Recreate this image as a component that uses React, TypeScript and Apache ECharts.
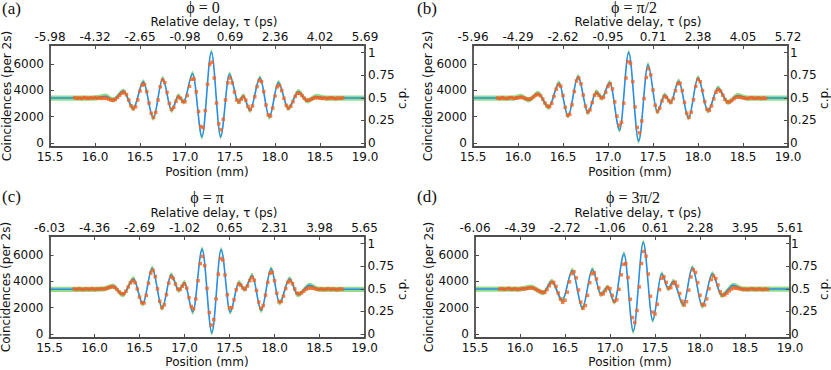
import React, { useEffect, useRef } from "react";
import * as echarts from "echarts";

// ---------- axis settings & tick labels ----------
const positionMin = 15.5;
const positionMax = 19.0;
const positionStep = 0.5;
const coincidenceMin = -300;
const coincidenceMax = 7450;
const cpFullScale = 6870; // coincidences corresponding to c.p. = 1
const coincidenceTicks = [0, 2000, 4000, 6000];
const cpTicks = [0, 0.25, 0.5, 0.75, 1];
const bandHalfWidth = 200; // half width of the green band around the fit

const delayTicksA = ["-5.98", "-4.32", "-2.65", "-0.98", "0.69", "2.36", "4.02", "5.69"];
const delayTicksB = ["-5.96", "-4.29", "-2.62", "-0.95", "0.71", "2.38", "4.05", "5.72"];
const delayTicksC = ["-6.03", "-4.36", "-2.69", "-1.02", "0.65", "2.31", "3.98", "5.65"];
const delayTicksD = ["-6.06", "-4.39", "-2.72", "-1.06", "0.61", "2.28", "3.95", "5.61"];

// ---------- fitted curves (extrema) ----------
const fitPosA = [15.5, 16.0, 16.12, 16.2, 16.315, 16.426, 16.537, 16.648, 16.752, 16.852, 16.926, 16.985, 17.085, 17.189, 17.293, 17.396, 17.493, 17.593, 17.648, 17.722, 17.833, 17.937, 18.037, 18.148, 18.259, 18.36, 18.46, 18.56, 19.0];
const fitValA = [3420, 3420, 3560, 3280, 3950, 2650, 4650, 1900, 4900, 2480, 3580, 3130, 5280, 480, 6920, 480, 5230, 3130, 3580, 2480, 4950, 1980, 4600, 2650, 3900, 3200, 3540, 3420, 3420];

const fitPosB = [15.5, 15.95, 16.03, 16.12, 16.222, 16.341, 16.456, 16.556, 16.667, 16.778, 16.87, 16.933, 17.019, 17.13, 17.23, 17.341, 17.444, 17.548, 17.63, 17.696, 17.785, 17.896, 18.0, 18.111, 18.222, 18.333, 18.44, 18.55, 19.0];
const fitValB = [3420, 3420, 3540, 3280, 3780, 2720, 4550, 2050, 5050, 2320, 3880, 3430, 4600, 1000, 6900, 150, 5950, 2370, 3640, 3080, 4700, 1920, 4950, 2450, 4180, 3100, 3600, 3420, 3420];

const fitPosC = [15.5, 16.0, 16.1, 16.204, 16.315, 16.433, 16.537, 16.641, 16.752, 16.852, 16.937, 17.0, 17.093, 17.196, 17.304, 17.407, 17.507, 17.604, 17.667, 17.752, 17.852, 17.963, 18.056, 18.167, 18.259, 18.389, 18.5, 19.0];
const fitValC = [3400, 3400, 3440, 3650, 2990, 4200, 2300, 5000, 1980, 4500, 3320, 3900, 1670, 6450, 100, 6420, 1670, 3900, 3390, 4450, 1800, 4950, 2380, 4200, 2990, 3700, 3400, 3400];

const fitPosD = [15.5, 16.0, 16.12, 16.259, 16.352, 16.47, 16.581, 16.693, 16.804, 16.9, 16.974, 17.048, 17.156, 17.259, 17.37, 17.474, 17.574, 17.648, 17.704, 17.815, 17.915, 18.026, 18.137, 18.241, 18.37, 18.48, 19.0];
const fitValD = [3420, 3420, 3560, 3150, 4000, 2560, 4830, 1980, 4900, 3020, 3570, 2430, 6100, 200, 6980, 1040, 4580, 3440, 4000, 2230, 5050, 2130, 4580, 2940, 3700, 3420, 3420];

// ---------- measured coincidences (orange points), sampled every 0.025 mm from 15.775 mm ----------
const dataStart = 15.775;
const dataStep = 0.025;

const dataA = [
  3450, 3400, 3430, 3380, 3460, 3420, 3390, 3440, 3410, 3470, 3400, 3430, 3390,
  3420, 3400, 3340, 3280, 3250, 3310, 3460, 3640, 3790, 3850,
  3680, 3270, 2830, 2610, 2750, 3280, 3950, 4410, 4450, 3910,
  3040, 2260, 1950, 2330, 3270, 4270, 4780, 4590, 3850, 3010,
  2560, 2710, 3170, 3490, 3400, 3160, 3140, 3610, 4310, 4850,
  4860, 3890, 2400, 1260, 1180, 2470, 4460, 5970, 6140, 4940,
  3040, 1460, 1020, 1810, 3280, 4580, 4940, 4570, 3880, 3280,
  3110, 3330, 3500, 3260, 2790, 2550, 2820, 3520, 4280, 4760,
  4660, 3910, 2890, 2140, 2060, 2660, 3570, 4270, 4370, 3990,
  3400, 2860, 2650, 2790, 3140, 3540, 3780, 3770, 3610, 3400,
  3260, 3260, 3320, 3400, 3450, 3440,
  3420, 3390, 3430, 3380, 3410, 3440, 3400, 3370, 3420, 3400, 3430,
];

const dataB = [
  3420, 3380, 3450, 3400, 3370, 3430, 3460, 3390, 3410, 3440,
  3475, 3460, 3400, 3340, 3320, 3390, 3520, 3650, 3700, 3600,
  3350, 3040, 2810, 2760, 3020, 3540, 4090, 4420, 4320, 3620,
  2710, 2110, 2180, 2900, 3910, 4720, 4940, 4500, 3650, 2800,
  2360, 2520, 3080, 3630, 3790, 3620, 3420, 3470, 3850, 4300,
  4500, 4110, 3130, 2040, 1360, 1580, 3030, 4940, 6180, 6050,
  4670, 2740, 1190, 780, 1680, 3380, 4980, 5650, 5180, 4030,
  2870, 2400, 2660, 3200, 3540, 3470, 3230, 3100, 3380, 3980,
  4500, 4550, 3990, 3090, 2270, 1950, 2340, 3290, 4310, 4830,
  4660, 3990, 3150, 2560, 2480, 2820, 3360, 3860, 4050, 3940,
  3640, 3320, 3120, 3120, 3230, 3370, 3480, 3500, 3470,
  3440, 3400, 3380, 3420, 3450, 3390, 3410, 3430, 3380, 3420, 3400,
];

const dataC = [
  3430, 3390, 3450, 3410, 3380, 3440, 3420, 3400, 3460, 3390, 3430, 3410, 3440,
  3420, 3450, 3510, 3570, 3600, 3540, 3380, 3200, 3070, 3070,
  3260, 3580, 3890, 4050, 3910, 3420, 2810, 2380, 2360, 2940,
  3860, 4630, 4840, 4360, 3430, 2490, 2010, 2220, 2990, 3870,
  4340, 4220, 3800, 3420, 3380, 3630, 3800, 3490, 2770, 2100,
  1920, 2660, 4050, 5350, 5900, 5200, 3470, 1630, 680, 1100,
  2670, 4550, 5740, 5630, 4490, 2980, 2000, 2010, 2610, 3370,
  3790, 3710, 3490, 3410, 3650, 4050, 4290, 4080, 3310, 2430,
  1960, 2170, 2960, 3930, 4620, 4690, 4050, 3110, 2460, 2470,
  2880, 3460, 3920, 4040, 3820, 3430, 3110, 3060, 3130, 3260,
  3400, 3480, 3500, 3480, 3440, 3410,
  3400, 3430, 3380, 3410, 3440, 3390, 3420, 3400, 3370, 3430, 3410,
];

const dataD = [
  3420, 3450, 3390, 3430, 3470, 3400, 3410, 3440, 3380, 3420, 3460, 3430, 3470,
  3500, 3520, 3480, 3400, 3310, 3220, 3160, 3170, 3370, 3670,
  3910, 3920, 3620, 3120, 2650, 2410, 2570, 3180, 3970, 4590,
  4740, 4270, 3350, 2430, 1960, 2170, 2940, 3900, 4580, 4650,
  4190, 3510, 3050, 3050, 3300, 3530, 3450, 2940, 2500, 2600,
  3400, 4500, 5300, 5350, 4300, 2640, 1250, 880, 1790, 3580,
  5360, 6270, 5920, 4560, 2870, 1670, 1520, 2260, 3380, 4240,
  4350, 3930, 3500, 3520, 3830, 3940, 3650, 3080, 2500, 2210,
  2460, 3340, 4340, 4880, 4680, 3910, 2950, 2270, 2200, 2670,
  3440, 4130, 4400, 4210, 3730, 3220, 2960, 2980, 3110, 3280,
  3420, 3500, 3490, 3460, 3430, 3400,
  3420, 3380, 3410, 3440, 3400, 3390, 3430, 3410, 3380, 3420, 3400,
];

const panelLetters = ["(a)", "(b)", "(c)", "(d)"];
const panelTitles = ["ϕ = 0", "ϕ = π/2", "ϕ = π", "ϕ = 3π/2"];

// ---------- layout (pixels) ----------
const layout = [
  { left: 50, top: 45, width: 315, height: 102, letter: [2, 8], title: [203, 7], delayName: [214, 22], posName: [207, 172], yName: [6.5, 96], cpName: [402, 98], rightMargin: 3 },
  { left: 473, top: 45, width: 315, height: 102, letter: [417, 8], title: [634, 7], delayName: [638, 22], posName: [630, 172], yName: [428, 96], cpName: [824, 98], rightMargin: 2 },
  { left: 49.5, top: 236, width: 315, height: 102, letter: [2, 196], title: [207, 197], delayName: [214, 213], posName: [207, 362], yName: [6, 287], cpName: [402, 289], rightMargin: 3 },
  { left: 475, top: 236, width: 315, height: 102, letter: [417, 196], title: [633, 197], delayName: [638, 213], posName: [630, 362], yName: [429, 287], cpName: [824, 289], rightMargin: 1 },
];

const panelData = [
  { delay: delayTicksA, fitPos: fitPosA, fitVal: fitValA, data: dataA },
  { delay: delayTicksB, fitPos: fitPosB, fitVal: fitValB, data: dataB },
  { delay: delayTicksC, fitPos: fitPosC, fitVal: fitValC, data: dataC },
  { delay: delayTicksD, fitPos: fitPosD, fitVal: fitValD, data: dataD },
];

const SANS = '"DejaVu Sans", Verdana, sans-serif';
const SERIF = '"Liberation Serif", "Times New Roman", serif';
const AXIS_COLOR = "#4d4d4d";
const TEXT_COLOR = "#111111";
const GREEN = "#95dc8a";
const BLUE = "#2b8de3";
const ORANGE = "#f4621f";

function buildOption() {
  const grids: any[] = [];
  const xAxes: any[] = [];
  const yAxes: any[] = [];
  const series: any[] = [];
  const graphics: any[] = [];

  layout.forEach((L, i) => {
    const P = panelData[i];
    grids.push({ left: L.left, top: L.top, width: L.width, height: L.height, containLabel: false });

    const axisLine = { show: true, onZero: false, lineStyle: { color: AXIS_COLOR, width: 1.8 } };
    const axisTick = { show: true, inside: true, length: 4, lineStyle: { color: AXIS_COLOR, width: 1 } };
    const labelBase = {
      fontFamily: SANS,
      fontSize: 12,
      color: TEXT_COLOR,
      showMinLabel: true,
      showMaxLabel: true,
      hideOverlap: false,
    };

    xAxes.push({
      type: "value",
      gridIndex: i,
      position: "bottom",
      min: positionMin,
      max: positionMax,
      interval: positionStep,
      z: 10,
      axisLine,
      axisTick,
      axisLabel: { ...labelBase, margin: 3.5, formatter: (v: number) => v.toFixed(1) },
      splitLine: { show: false },
    });
    xAxes.push({
      type: "value",
      gridIndex: i,
      position: "top",
      min: positionMin,
      max: positionMax,
      interval: positionStep,
      z: 10,
      axisLine,
      axisTick,
      axisLabel: {
        ...labelBase,
        margin: 2.5,
        formatter: (v: number) => P.delay[Math.round((v - positionMin) / positionStep)] ?? "",
      },
      splitLine: { show: false },
    });
    yAxes.push({
      type: "value",
      gridIndex: i,
      position: "left",
      min: coincidenceMin,
      max: coincidenceMax,
      z: 10,
      axisLine,
      axisTick: { ...axisTick, customValues: coincidenceTicks },
      axisLabel: { ...labelBase, margin: 6, customValues: coincidenceTicks, formatter: (v: number) => String(v) },
      splitLine: { show: false },
    });
    yAxes.push({
      type: "value",
      gridIndex: i,
      position: "right",
      min: coincidenceMin / cpFullScale,
      max: coincidenceMax / cpFullScale,
      z: 10,
      axisLine,
      axisTick: { ...axisTick, customValues: cpTicks },
      axisLabel: { ...labelBase, margin: L.rightMargin, customValues: cpTicks, formatter: (v: number) => String(v) },
      splitLine: { show: false },
    });

    const fit = P.fitPos.map((x, k) => [x, P.fitVal[k]]);
    const common = {
      type: "line",
      xAxisIndex: 2 * i,
      yAxisIndex: 2 * i,
      smooth: 1 / 3,
      smoothMonotone: "x",
      showSymbol: false,
      silent: true,
    };
    // green band: upper edge filled green down to the axis, lower edge masked white
    series.push({
      ...common,
      data: fit.map(([x, y]) => [x, y + bandHalfWidth]),
      lineStyle: { width: 0, opacity: 0 },
      areaStyle: { color: GREEN, opacity: 1, origin: "start" },
      z: 1,
    });
    series.push({
      ...common,
      data: fit.map(([x, y]) => [x, y - bandHalfWidth]),
      lineStyle: { width: 0, opacity: 0 },
      areaStyle: { color: "#ffffff", opacity: 1, origin: "start" },
      z: 2,
    });
    series.push({
      ...common,
      data: fit,
      lineStyle: { color: BLUE, width: 1.6 },
      z: 3,
    });
    series.push({
      type: "scatter",
      xAxisIndex: 2 * i,
      yAxisIndex: 2 * i,
      data: P.data.map((v, k) => [dataStart + k * dataStep, v]),
      symbol: "rect",
      symbolSize: 3.5,
      itemStyle: { color: ORANGE },
      z: 4,
      silent: true,
    });

    const txt = (text: string, pos: number[], font: string, size: number, align = "center", rotation = 0) => ({
      type: "text",
      x: pos[0],
      y: pos[1],
      rotation,
      silent: true,
      style: {
        text,
        fill: TEXT_COLOR,
        fontFamily: font,
        fontSize: size,
        align,
        verticalAlign: "middle",
      },
    });
    graphics.push(txt(panelLetters[i], L.letter, SERIF, 17, "left"));
    graphics.push(txt(panelTitles[i], L.title, SERIF, 16));
    graphics.push(txt("Relative delay, τ (ps)", L.delayName, SANS, 12));
    graphics.push(txt("Position (mm)", L.posName, SANS, 12));
    graphics.push(txt("Coincidences (per 2s)", L.yName, SANS, 12, "center", Math.PI / 2));
    graphics.push(txt("c.p.", L.cpName, SANS, 12, "center", Math.PI / 2));
  });

  return {
    animation: false,
    backgroundColor: "#ffffff",
    grid: grids,
    xAxis: xAxes,
    yAxis: yAxes,
    series,
    graphic: graphics,
  };
}

export default function App() {
  const ref = useRef<HTMLDivElement>(null);
  useEffect(() => {
    if (!ref.current) return;
    const chart = echarts.init(ref.current, undefined, { renderer: "svg" });
    chart.setOption(buildOption() as any);
    return () => chart.dispose();
  }, []);
  return (
    <div
      ref={ref}
      style={{ position: "absolute", left: 0, top: 0, width: 831, height: 370, background: "#fff" }}
    />
  );
}
